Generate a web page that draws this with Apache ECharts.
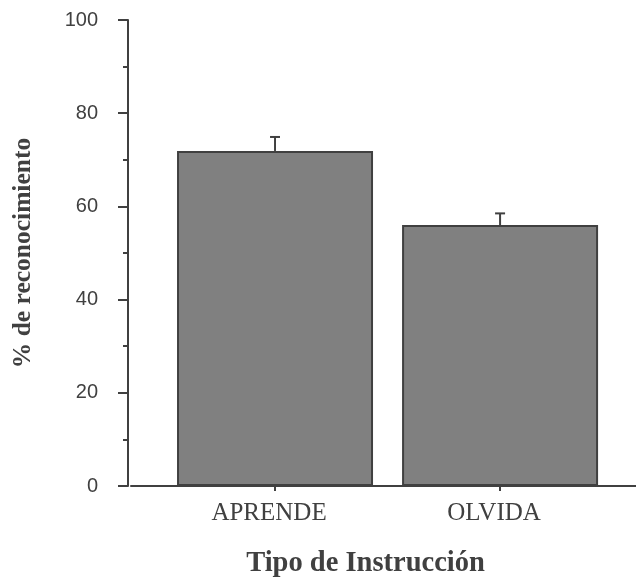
<!DOCTYPE html>
<html>
<head>
<meta charset="utf-8">
<script src="https://cdn.jsdelivr.net/npm/echarts@6/dist/echarts.min.js"></script>
<style>
html,body{margin:0;padding:0;background:#fff;}
#chart{width:636px;height:580px;}
</style>
</head>
<body>
<div id="chart"></div>
<script>
const categories = ['APRENDE', 'OLVIDA'];
const values = [71.9, 56.0];
const errors = [3.0, 2.5];
const yTicks = [0, 20, 40, 60, 80, 100];
const xTitle = 'Tipo de Instrucción';
const yTitle = '% de reconocimiento';

const dark = '#404040';
const barData = values.map((v, i) => [i, v]);
const errData = values.map((v, i) => [i, v, v + errors[i]]);

const chart = echarts.init(document.getElementById('chart'));
chart.setOption({
  animation: false,
  backgroundColor: '#fff',
  grid: { left: 131, right: 0, top: 20, bottom: 94, containLabel: false, outerBoundsMode: 'none' },
  xAxis: {
    type: 'value',
    min: -0.64,
    max: 1.604,
    splitLine: { show: false },
    axisLine: { show: true, onZero: false, lineStyle: { color: dark, width: 2 } },
    axisTick: { show: true, customValues: [0, 1], length: 5, lineStyle: { color: dark, width: 2 } },
    axisLabel: {
      customValues: [0, 1],
      formatter: v => categories[Math.round(v)],
      fontFamily: 'Liberation Serif',
      fontSize: 25,
      color: dark,
      margin: 15,
      padding: [0, 12, 0, 0]
    },
    name: xTitle,
    nameLocation: 'middle',
    nameGap: 63,
    nameTextStyle: { fontFamily: 'Liberation Serif', fontWeight: 'bold', fontSize: 28.5, color: dark, padding: [0, 36, 0, 0] }
  },
  yAxis: {
    type: 'value',
    min: yTicks[0],
    max: yTicks[yTicks.length - 1],
    interval: 20,
    offset: 3,
    splitLine: { show: false },
    axisLine: { show: true, onZero: false, lineStyle: { color: dark, width: 2 } },
    axisTick: { show: true, length: 10, lineStyle: { color: dark, width: 2 } },
    minorTick: { show: true, splitNumber: 2, length: 5, lineStyle: { color: dark, width: 2 } },
    axisLabel: { fontFamily: 'Liberation Sans', fontSize: 20, color: dark, margin: 30 },
    name: yTitle,
    nameLocation: 'middle',
    nameGap: 92,
    nameTextStyle: { fontFamily: 'Liberation Serif', fontWeight: 'bold', fontSize: 25.5, color: dark }
  },
  series: [
    {
      type: 'bar',
      data: barData,
      barWidth: 196,
      itemStyle: { color: '#808080', borderColor: dark, borderWidth: 2 },
      z: 2
    },
    {
      type: 'custom',
      data: errData,
      z: 3,
      renderItem: (params, api) => {
        const x = api.value(0);
        const base = api.coord([x, api.value(1)]);
        const top = api.coord([x, api.value(2)]);
        const hw = 5;
        const style = { stroke: dark, lineWidth: 2, fill: null };
        return {
          type: 'group',
          children: [
            { type: 'line', shape: { x1: base[0], y1: base[1], x2: top[0], y2: top[1] }, style },
            { type: 'line', shape: { x1: top[0] - hw, y1: top[1], x2: top[0] + hw, y2: top[1] }, style }
          ]
        };
      }
    }
  ]
});
</script>
</body>
</html>
